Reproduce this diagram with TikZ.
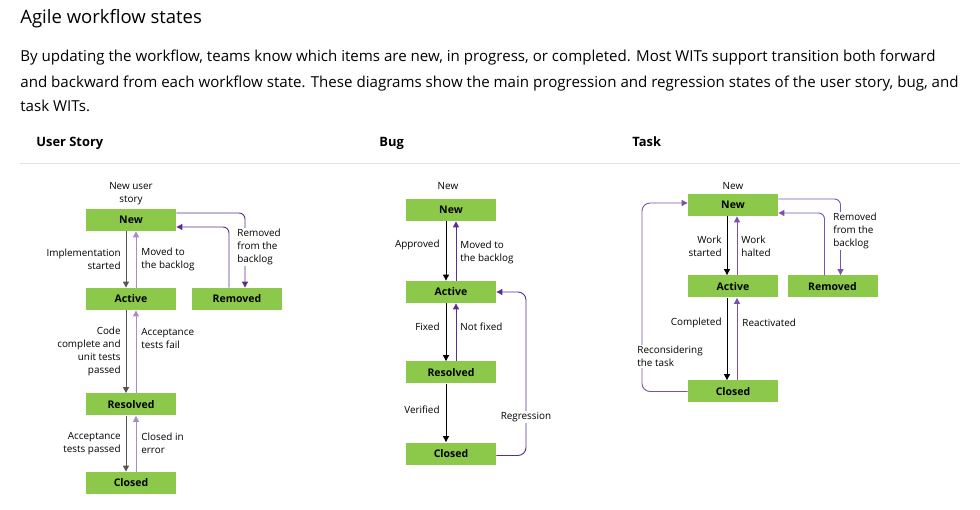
\documentclass[tikz,border=0pt]{standalone}
\usepackage{fontspec}
\setmainfont{Open Sans}
\usetikzlibrary{arrows.meta}

\definecolor{boxgreen}{HTML}{8CC94B}
\definecolor{darkpurple}{HTML}{5C2D91}
\definecolor{midpurple}{HTML}{7A52AC}
\definecolor{lightpurple}{HTML}{A98BC9}
\definecolor{rulegray}{HTML}{E3E3E3}
\definecolor{linegray}{HTML}{555555}

\begin{document}
\begin{tikzpicture}[x=1pt, y=-1pt, thick,
    state/.style={fill=boxgreen, minimum width=90pt, minimum height=22pt, inner sep=0pt,
        font=\fontsize{10.5}{12}\selectfont\bfseries},
    lbl/.style={inner sep=0pt, font=\fontsize{9.9}{13}\selectfont},
    gap/.style={lbl, fill=white, inner sep=1pt},
    fwd/.style={draw=black, line width=0.9pt, -{Triangle[length=6pt,width=6pt]}},
    back/.style={draw=darkpurple, line width=0.9pt, -{Triangle[length=6pt,width=6pt]}}]
        \useasboundingbox (0,0) rectangle (980,510);

        % heading and text
        \node[anchor=base west, inner sep=0pt, font=\fontsize{18.5}{20}\selectfont] (title) at (20,24) {Agile workflow states};
        \node[anchor=base west, inner sep=0pt, font=\fontsize{15.1}{18}\selectfont] (line1) at (20,62) {By updating the workflow, teams know which items are new, in progress, or completed. Most WITs support transition both forward};
        \node[anchor=base west, inner sep=0pt, font=\fontsize{15.1}{18}\selectfont] (line2) at (20,88) {and backward from each workflow state. These diagrams show the main progression and regression states of the user story, bug, and};
        \node[anchor=base west, inner sep=0pt, font=\fontsize{15.1}{18}\selectfont] (line3) at (20,112) {task WITs.};
        \node[anchor=base west, inner sep=0pt, font=\fontsize{12.9}{15}\selectfont\bfseries] (hstory) at (36,147) {User Story};
        \node[anchor=base west, inner sep=0pt, font=\fontsize{12.9}{15}\selectfont\bfseries] (hbug) at (379,147) {Bug};
        \node[anchor=base west, inner sep=0pt, font=\fontsize{12.9}{15}\selectfont\bfseries] (htask) at (632,147) {Task};
        \draw[rulegray, thin] (20,163) -- (960,163);

        % user story
        \node[state] (usNew) at (131,220) {New};
        \node[state] (usActive) at (131,299) {Active};
        \node[state] (usRemoved) at (237,299) {Removed};
        \node[state] (usResolved) at (131,404.5) {Resolved};
        \node[state] (usClosed) at (131,483) {Closed};
        \node[lbl, align=center] (usStart) at (131,193.5) {New user\\story};

        \draw[fwd, draw=linegray] ([xshift=-5pt]usNew.south) -- ([xshift=-5pt]usActive.north);
        \draw[back, draw=lightpurple] ([xshift=5pt]usActive.north) -- ([xshift=5pt]usNew.south);
        \draw[fwd, draw=linegray] ([xshift=-5pt]usActive.south) -- ([xshift=-5pt]usResolved.north);
        \draw[back, draw=lightpurple] ([xshift=5pt]usResolved.north) -- ([xshift=5pt]usActive.south);
        \draw[fwd, draw=linegray] ([xshift=-5pt]usResolved.south) -- ([xshift=-5pt]usClosed.north);
        \draw[back, draw=lightpurple] ([xshift=5pt]usClosed.north) -- ([xshift=5pt]usResolved.south);
        \draw[back, rounded corners=6pt] ([yshift=7pt]usNew.east) -| ([xshift=8pt]usRemoved.north);
        \draw[back, rounded corners=6pt] ([xshift=-8pt]usRemoved.north) |- ([yshift=-7pt]usNew.east);

        \node[lbl, anchor=east, align=right] (usImpl) at (121,259.5) {Implementation\\started};
        \node[lbl, anchor=west, align=left] (usMoved) at (141,259.5) {Moved to\\the backlog};
        \node[gap, anchor=west, align=left] (usRemLbl) at (236,247) {Removed\\from the\\backlog};
        \node[lbl, anchor=east, align=right] (usCode) at (121,351.5) {Code\\complete and\\unit tests\\passed};
        \node[lbl, anchor=west, align=left] (usFail) at (141,338.5) {Acceptance\\tests fail};
        \node[lbl, anchor=east, align=right] (usPass) at (121,443.5) {Acceptance\\tests passed};
        \node[lbl, anchor=west, align=left] (usError) at (141,443.5) {Closed in\\error};

        % bug
        \node[state] (bgNew) at (451,210) {New};
        \node[state] (bgActive) at (451,292) {Active};
        \node[state] (bgResolved) at (451,372.5) {Resolved};
        \node[state] (bgClosed) at (451,453.5) {Closed};
        \node[lbl] (bgStart) at (448,186) {New};
        \coordinate (bgReg) at (526,372);

        \draw[fwd] ([xshift=-5pt]bgNew.south) -- ([xshift=-5pt]bgActive.north);
        \draw[back] ([xshift=5pt]bgActive.north) -- ([xshift=5pt]bgNew.south);
        \draw[fwd] ([xshift=-5pt]bgActive.south) -- ([xshift=-5pt]bgResolved.north);
        \draw[back] ([xshift=5pt]bgResolved.north) -- ([xshift=5pt]bgActive.south);
        \draw[fwd] ([xshift=-5pt]bgResolved.south) -- ([xshift=-5pt]bgClosed.north);
        \draw[back, rounded corners=8pt] ([yshift=-2pt]bgClosed.east) -| (bgReg) |- (bgActive.east);

        \node[lbl, anchor=east] (bgApproved) at (440,245) {Approved};
        \node[lbl, anchor=west, align=left] (bgMoved) at (460,252) {Moved to\\the backlog};
        \node[lbl, anchor=east] (bgFixed) at (440,327) {Fixed};
        \node[lbl, anchor=west] (bgNotFixed) at (460,327) {Not fixed};
        \node[lbl, anchor=east] (bgVerified) at (440,410) {Verified};
        \node[gap] (bgRegLbl) at (526,417) {Regression};

        % task
        \node[state] (tkNew) at (733,205) {New};
        \node[state] (tkActive) at (733,286.5) {Active};
        \node[state] (tkRemoved) at (832.5,286.5) {Removed};
        \node[state] (tkClosed) at (733,391.5) {Closed};
        \node[lbl] (tkStart) at (733,186) {New};
        \coordinate (tkLoop) at (642,300);

        \draw[fwd] ([xshift=-6pt]tkNew.south) -- ([xshift=-6pt]tkActive.north);
        \draw[back, draw=midpurple] ([xshift=4pt]tkActive.north) -- ([xshift=4pt]tkNew.south);
        \draw[fwd] ([xshift=-6pt]tkActive.south) -- ([xshift=-6pt]tkClosed.north);
        \draw[back, draw=midpurple] ([xshift=4pt]tkClosed.north) -- ([xshift=4pt]tkActive.south);
        \draw[back, draw=midpurple, rounded corners=6pt] ([yshift=6pt]tkNew.east) -| ([xshift=8pt]tkRemoved.north);
        \draw[back, draw=midpurple, rounded corners=6pt] ([xshift=-8pt]tkRemoved.north) |- ([yshift=-8pt]tkNew.east);
        \draw[back, draw=midpurple, rounded corners=8pt] (tkClosed.west) -| (tkLoop) |- ([yshift=2pt]tkNew.west);

        \node[lbl, anchor=east, align=right] (tkStarted) at (722,246.5) {Work\\started};
        \node[lbl, anchor=west, align=left] (tkHalted) at (741,246.5) {Work\\halted};
        \node[gap, anchor=west, align=left] (tkRemLbl) at (832,231) {Removed\\from the\\backlog};
        \node[lbl, anchor=east] (tkCompleted) at (722,323) {Completed};
        \node[lbl, anchor=west] (tkReact) at (742,323) {Reactivated};
        \node[gap, anchor=west, align=left] (tkRecons) at (636,356.5) {Reconsidering\\the task};
\end{tikzpicture}
\end{document}
